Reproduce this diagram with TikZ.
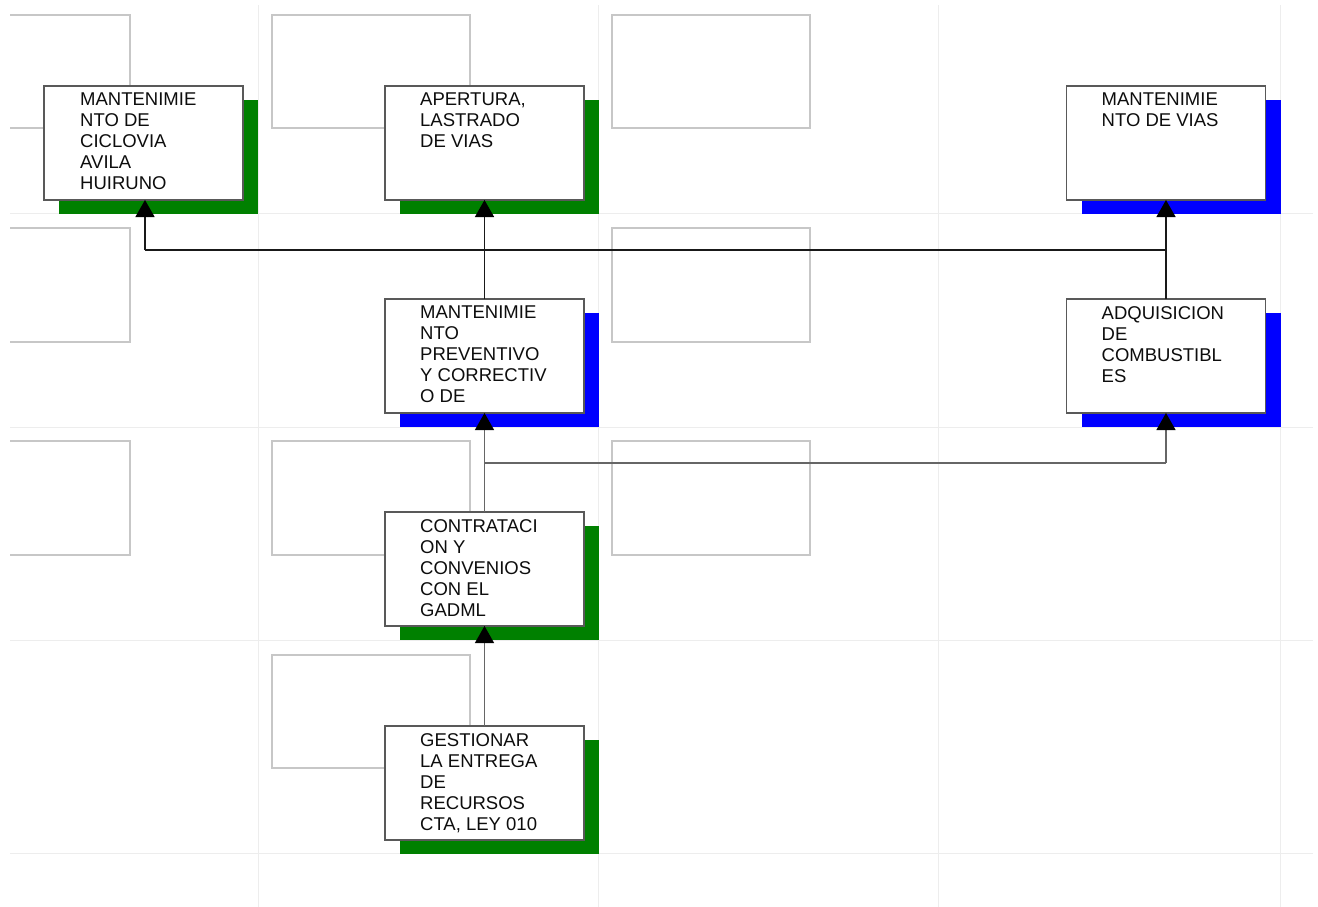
\documentclass[tikz,border=0pt]{standalone}
\usepackage{fontspec}
\setmainfont{Liberation Sans}
\usetikzlibrary{arrows.meta,shadows}
\begin{document}
\begin{tikzpicture}[x=1pt,y=-1pt,
  gridline/.style={draw=black!7, line width=1pt},
  ghost/.style={draw=black!22, line width=1.3pt},
  box/.style={draw=black!65, line width=1.3pt, fill=white, minimum width=199pt, minimum height=114pt, inner sep=0pt, outer sep=0pt},
  gshadow/.style={drop shadow={shadow xshift=15pt, shadow yshift=-14pt, fill=green!50!black, opacity=1}},
  bshadow/.style={drop shadow={shadow xshift=15pt, shadow yshift=-14pt, fill=blue, opacity=1}},
  txt/.style={anchor=north west, inner sep=0pt, align=left, font=\fontsize{18.5}{21}\selectfont, text=black!95},
  arr/.style={-{Triangle[width=19pt,length=17pt,color=black]}},
  topline/.style={draw=black!90, line width=1.4pt},
  lowline/.style={draw=black!60, line width=1.3pt}
]
\useasboundingbox (0,0) rectangle (1318,907);
% grid
\foreach \y in {213,427,640,853} \draw[gridline] (10,\y) -- (1313,\y);
\foreach \x in {258,598,938,1280} \draw[gridline] (\x,5) -- (\x,907);
% ghost boxes
\draw[ghost] (10,15) -- (130,15) -- (130,128) -- (10,128);
\draw[ghost] (10,228) -- (130,228) -- (130,342) -- (10,342);
\draw[ghost] (10,441) -- (130,441) -- (130,555) -- (10,555);
\draw[ghost] (272,15) rectangle (470,128);
\draw[ghost] (612,15) rectangle (810,128);
\draw[ghost] (612,228) rectangle (810,342);
\draw[ghost] (272,441) rectangle (470,555);
\draw[ghost] (612,441) rectangle (810,555);
\draw[ghost] (272,655) rectangle (470,768);
% boxes
\node[box,gshadow] (b1) at (143.5,143) {};
\node[box,gshadow] (b2) at (484.5,143) {};
\node[box,bshadow] (b3) at (1166,143) {};
\node[box,bshadow] (b4) at (484.5,356) {};
\node[box,bshadow] (b5) at (1166,356) {};
\node[box,gshadow] (b6) at (484.5,569) {};
\node[box,gshadow] (b7) at (484.5,783) {};
% texts
\node[txt] (t1) at ([shift={(36,7)}]b1.north west) {MANTENIMIE\\NTO DE\\CICLOVIA\\AVILA\\HUIRUNO};
\node[txt] (t2) at ([shift={(35,7)}]b2.north west) {APERTURA,\\LASTRADO\\DE VIAS};
\node[txt] (t3) at ([shift={(35,7)}]b3.north west) {MANTENIMIE\\NTO DE VIAS};
\node[txt] (t4) at ([shift={(35,7)}]b4.north west) {MANTENIMIE\\NTO\\PREVENTIVO\\Y CORRECTIV\\O DE};
\node[txt] (t5) at ([shift={(35,7)}]b5.north west) {ADQUISICION\\DE\\COMBUSTIBL\\ES};
\node[txt] (t6) at ([shift={(35,7)}]b6.north west) {CONTRATACI\\ON Y\\CONVENIOS\\CON EL\\GADML};
\node[txt] (t7) at ([shift={(35,7)}]b7.north west) {GESTIONAR\\LA ENTREGA\\DE\\RECURSOS\\CTA, LEY 010};
% connectors
\coordinate (h1) at (145,250);
\coordinate (h2) at (1166,250);
\coordinate (h3) at (484.5,463);
\coordinate (h4) at (1166,463);
\draw[topline,arr] (b4.north) -- (b2.south);
\draw[topline,arr] (b5.north) -- (b3.south);
\draw[topline] (h1) -- (h2);
\draw[topline,arr] (h1) -- (b1.south -| h1);
\draw[lowline,arr] (b6.north) -- (b4.south);
\draw[lowline] (h3) -- (h4);
\draw[lowline,arr] (h4) -- (b5.south);
\draw[lowline,arr] (b7.north) -- (b6.south);
\end{tikzpicture}
\end{document}
